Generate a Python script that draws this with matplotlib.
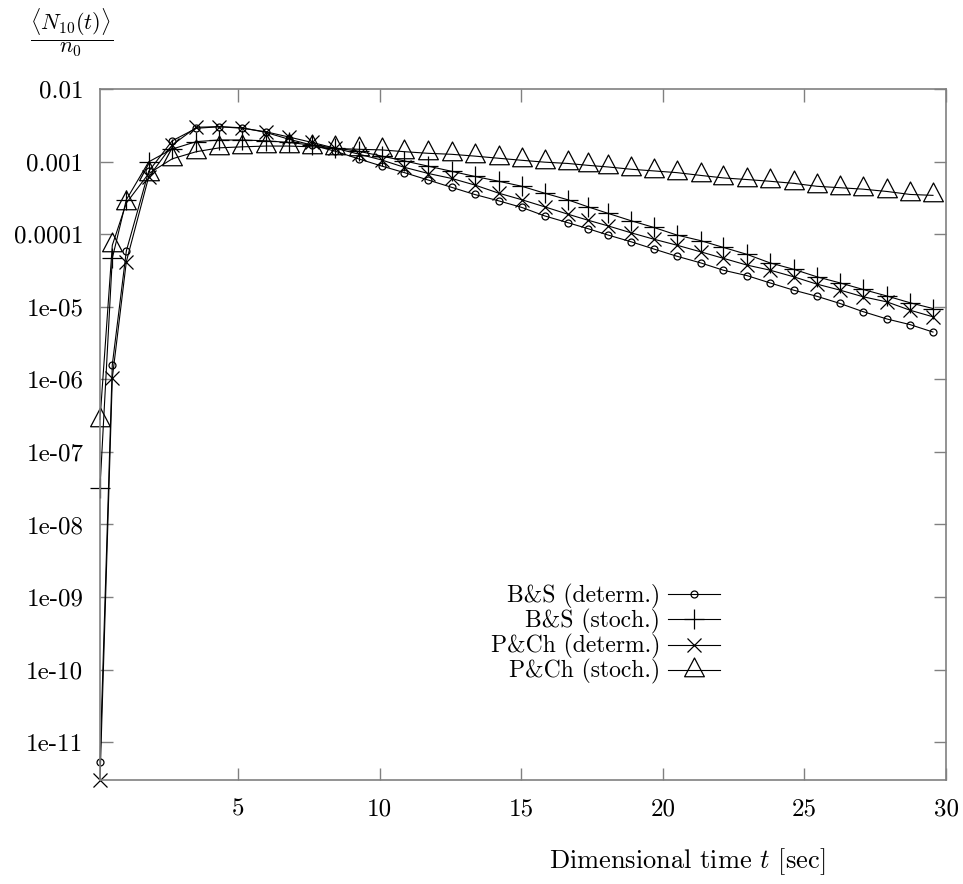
import numpy as np
import matplotlib
matplotlib.use('AGG')
import matplotlib.pyplot as plt
from matplotlib.path import Path

plt.rcParams['font.family'] = 'serif'
plt.rcParams['font.serif'] = ['cmr10', 'DejaVu Serif']
plt.rcParams['mathtext.fontset'] = 'cm'
plt.rcParams['axes.unicode_minus'] = False

# 時刻 [sec]
t = [0.12, 0.555, 1.05, 1.84, 2.67, 3.52, 4.34, 5.15, 5.97, 6.79, 7.61, 8.43, 9.25,
     10.07, 10.87, 11.72, 12.54, 13.35, 14.2, 15.02, 15.82, 16.64, 17.35, 18.06,
     18.88, 19.67, 20.49, 21.33, 22.14, 22.97, 23.77, 24.62, 25.44, 26.24, 27.07,
     27.92, 28.73, 29.54]

bs_det = [5.3e-12, 1.6e-6, 5.9e-5, 7.4e-4, 1.95e-3, 2.9e-3, 3.05e-3, 2.95e-3, 2.55e-3,
          2.05e-3, 1.7e-3, 1.4e-3, 1.1e-3,
          8.75e-4, 7.1e-4, 5.6e-4, 4.45e-4, 3.55e-4, 2.9e-4, 2.35e-4, 1.8e-4, 1.45e-4,
          1.2e-4, 9.8e-5, 7.9e-5, 6.3e-5, 5.0e-5, 4.05e-5, 3.2e-5, 2.7e-5, 2.15e-5,
          1.7e-5, 1.4e-5, 1.12e-5, 8.6e-6, 6.8e-6, 5.7e-6, 4.5e-6]

bs_sto = [3.2e-8, 4.7e-5, 3.0e-4, 1.0e-3, 1.5e-3, 1.9e-3, 2.0e-3, 2.0e-3, 1.95e-3,
          1.85e-3, 1.7e-3, 1.55e-3, 1.4e-3,
          1.2e-3, 1.03e-3, 8.7e-4, 7.4e-4, 6.3e-4, 5.4e-4, 4.6e-4, 3.7e-4, 3.0e-4,
          2.4e-4, 1.95e-4, 1.54e-4, 1.25e-4, 9.8e-5, 8.2e-5, 6.6e-5, 5.3e-5, 4.06e-5,
          3.3e-5, 2.6e-5, 2.15e-5, 1.74e-5, 1.41e-5, 1.14e-5, 9.5e-6]

pc_det = [3.0e-12, 1.05e-6, 4.2e-5, 6.2e-4, 1.7e-3, 3.0e-3, 3.05e-3, 2.9e-3, 2.6e-3,
          2.2e-3, 1.85e-3, 1.54e-3, 1.28e-3,
          1.06e-3, 8.4e-4, 6.9e-4, 5.9e-4, 4.8e-4, 3.7e-4, 3.0e-4, 2.4e-4, 1.9e-4,
          1.57e-4, 1.31e-4, 1.05e-4, 8.6e-5, 7.1e-5, 5.75e-5, 4.67e-5, 3.77e-5, 3.22e-5,
          2.6e-5, 2.06e-5, 1.71e-5, 1.38e-5, 1.17e-5, 9.0e-6, 7.3e-6]

pc_sto = [2.8e-7, 7.1e-5, 2.7e-4, 6.9e-4, 1.1e-3, 1.38e-3, 1.56e-3, 1.61e-3, 1.65e-3,
          1.65e-3, 1.61e-3, 1.53e-3, 1.49e-3,
          1.46e-3, 1.38e-3, 1.31e-3, 1.27e-3, 1.2e-3, 1.12e-3, 1.05e-3, 9.9e-4, 9.5e-4,
          8.95e-4, 8.5e-4, 7.9e-4, 7.5e-4, 7.1e-4, 6.5e-4, 6.0e-4, 5.7e-4, 5.4e-4,
          5.05e-4, 4.6e-4, 4.4e-4, 4.2e-4, 3.9e-4, 3.55e-4, 3.45e-4]

labels = ['B&S (determ.)', 'B&S (stoch.)', 'P&Ch (determ.)', 'P&Ch (stoch.)']

xticks = [5, 10, 15, 20, 25, 30]
yticks = [1e-11, 1e-10, 1e-9, 1e-8, 1e-7, 1e-6, 1e-5, 1e-4, 1e-3, 1e-2]
yticklabels = ['1e-11', '1e-10', '1e-09', '1e-08', '1e-07', '1e-06', '1e-05',
               '0.0001', '0.001', '0.01']

FS = 18

# gnuplot風の三角形（重心がデータ点）
tri = Path([(0, 1.0), (-0.79, -0.5), (0.79, -0.5), (0, 1.0)],
           [Path.MOVETO, Path.LINETO, Path.LINETO, Path.CLOSEPOLY])

fig = plt.figure(figsize=(9.63, 8.84), dpi=100)
ax = fig.add_axes([100 / 963, 1 - 780 / 884, 846 / 963, (780 - 89.3) / 884])

kw = dict(color='black', lw=0.8, mec='black', mew=0.9, clip_on=False)
ax.plot(t, bs_det, marker='o', ms=5, mfc='none', label=labels[0], **kw)
ax.plot(t, bs_sto, marker='+', ms=14, label=labels[1], **kw)
ax.plot(t, pc_det, marker='x', ms=10, label=labels[2], **kw)
ax.plot(t, pc_sto, marker=tri, ms=18, mfc='none', label=labels[3], **kw)

ax.set_yscale('log')
ax.set_xlim(t[0], 30)
ax.set_ylim(3.0e-12, 1e-2)
ax.set_xticks(xticks)
ax.set_xticklabels([str(v) for v in xticks])
ax.set_yticks(yticks)
ax.set_yticklabels(yticklabels)
ax.minorticks_off()
ax.tick_params(direction='in', top=True, right=True, length=9, width=1.0,
               color='#808080', labelsize=FS)
ax.tick_params(axis='y', pad=12)
ax.tick_params(axis='x', pad=13)
for s in ax.spines.values():
    s.set_color('#808080')
    s.set_linewidth(1.2)

ax.legend(loc='center right', bbox_to_anchor=(0.747, 0.211), frameon=False,
          markerfirst=False, numpoints=1, fontsize=17, handlelength=2.2,
          handletextpad=0.35, labelspacing=0.0, borderpad=0)

fig.text(72 / 963, 1 - 33 / 884, r'$\dfrac{\langle N_{10}(t)\rangle}{n_0}$',
         fontsize=16, ha='center', va='center')
fig.text(687 / 963, 1 - 862 / 884, r'Dimensional time $t$ [sec]',
         fontsize=19, ha='center', va='center')

plt.savefig('out.png', dpi=100)
plt.close('all')
